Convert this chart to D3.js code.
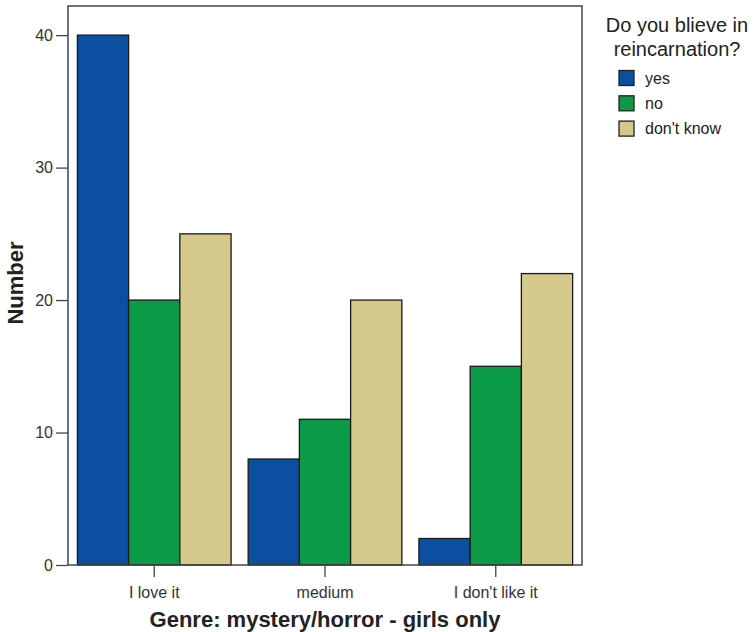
<!DOCTYPE html>
<html>
<head>
<meta charset="utf-8">
<script src="https://cdn.jsdelivr.net/npm/d3@7"></script>
<style>
  body { margin: 0; background: #fff; }
  svg { display: block; font-family: "Liberation Sans", Arial, sans-serif; }
</style>
</head>
<body>
<svg id="chart" width="756" height="632"></svg>
<script>
// data
var categories = ["I love it", "medium", "I don't like it"];
var seriesNames = ["yes", "no", "don't know"];
var yesValues = [40, 8, 2];
var noValues = [20, 11, 15];
var dontKnowValues = [25, 20, 22];
var yTicks = [0, 10, 20, 30, 40];
var colours = ["#0a4fa0", "#0a9a48", "#d4c98b"];

var seriesValues = [yesValues, noValues, dontKnowValues];

var svg = d3.select("#chart");
var margin = {left: 68, top: 6, right: 174, bottom: 67};
var width = 756 - margin.left - margin.right,
	height = 632 - margin.top - margin.bottom;

var g = svg.append("g").attr("transform", `translate(${margin.left},${margin.top})`);

var x0 = d3.scaleBand()
	.domain(categories)
	.range([0, width])
	.paddingInner(0.1)
	.paddingOuter(0.055);

var x1 = d3.scaleBand()
	.domain(seriesNames)
	.range([0, x0.bandwidth()]);

var y = d3.scaleLinear()
	.domain([0, 42.2])
	.range([height, 0]);

var colour = d3.scaleOrdinal().domain(seriesNames).range(colours);

// bars
var rows = categories.map((c, i) => ({cat: c, vals: seriesNames.map((s, j) => ({key: s, value: seriesValues[j][i]}))}));

g.append("g")
	.selectAll("g")
	.data(rows)
	.join("g")
	.attr("transform", d => `translate(${x0(d.cat)},0)`)
	.selectAll("rect")
	.data(d => d.vals)
	.join("rect")
	.attr("x", d => x1(d.key))
	.attr("y", d => y(d.value))
	.attr("width", x1.bandwidth())
	.attr("height", d => height - y(d.value))
	.attr("fill", d => colour(d.key))
	.attr("stroke", "#1a1a1a")
	.attr("stroke-width", 1.3);

// frame
g.append("rect")
	.attr("x", 0).attr("y", 0)
	.attr("width", width).attr("height", height)
	.attr("fill", "none")
	.attr("stroke", "#444")
	.attr("stroke-width", 1.5);

// y axis
var yAxis = g.append("g")
	.call(d3.axisLeft(y).tickValues(yTicks).tickSize(12).tickPadding(3).tickFormat(d3.format("d")));
yAxis.select(".domain").remove();
yAxis.selectAll("line").attr("stroke", "#444").attr("stroke-width", 1.3);
yAxis.selectAll("text").attr("font-size", 16).attr("fill", "#333")
	.attr("font-family", "Liberation Sans, Arial, sans-serif");

// x axis
var xAxis = g.append("g")
	.attr("transform", `translate(0,${height})`)
	.call(d3.axisBottom(x0).tickSize(12).tickPadding(10));
xAxis.select(".domain").remove();
xAxis.selectAll("line").attr("stroke", "#444").attr("stroke-width", 1.3);
xAxis.selectAll("text").attr("font-size", 16).attr("fill", "#333")
	.attr("font-family", "Liberation Sans, Arial, sans-serif");

// axis titles
svg.append("text")
	.attr("x", margin.left + width / 2)
	.attr("y", 627)
	.attr("text-anchor", "middle")
	.attr("font-size", 22)
	.attr("font-weight", "bold")
	.attr("fill", "#222")
	.text("Genre: mystery/horror - girls only");

svg.append("text")
	.attr("transform", "translate(23,283) rotate(-90)")
	.attr("text-anchor", "middle")
	.attr("font-size", 22)
	.attr("font-weight", "bold")
	.attr("fill", "#222")
	.text("Number");

// legend
var legend = svg.append("g").attr("transform", "translate(677,0)");
legend.append("text")
	.attr("text-anchor", "middle")
	.attr("font-size", 20)
	.attr("fill", "#222")
	.call(t => t.append("tspan").attr("x", 0).attr("y", 32).text("Do you blieve in"))
	.call(t => t.append("tspan").attr("x", 0).attr("y", 56).text("reincarnation?"));

legend.selectAll("g")
	.data(seriesNames)
	.join("g")
	.attr("transform", (d, i) => `translate(-58,${70.5 + i * 25.3})`)
	.call(s => s.append("rect")
		.attr("width", 15).attr("height", 15)
		.attr("fill", d => colour(d))
		.attr("stroke", "#222").attr("stroke-width", 1.3))
	.call(s => s.append("text")
		.attr("x", 26).attr("y", 7.5)
		.attr("dy", "0.35em")
		.attr("font-size", 16)
		.attr("fill", "#222")
		.text(d => d));
</script>
</body>
</html>
